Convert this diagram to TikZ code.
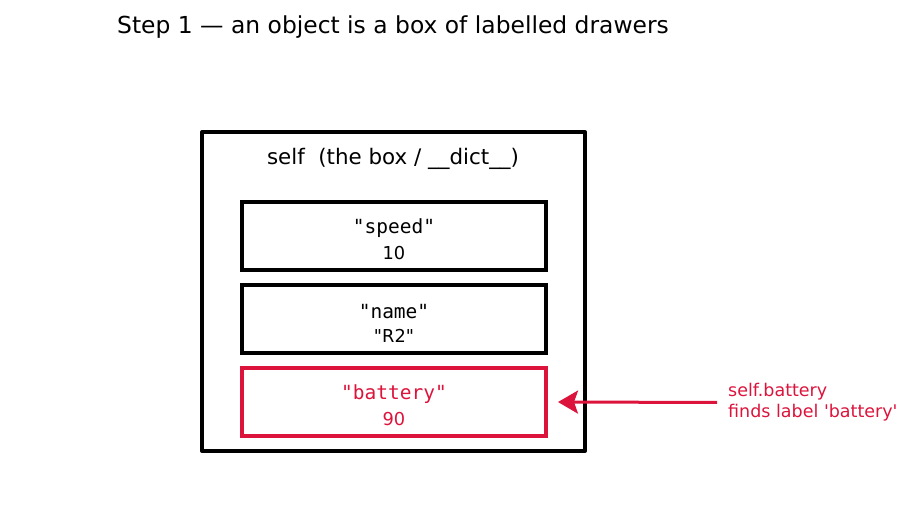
\documentclass[tikz,border=0pt]{standalone}
\usepackage{fontspec}
\setmainfont{DejaVu Sans}[Ligatures=TeXOff]
\setmonofont{DejaVu Sans Mono}
\usetikzlibrary{arrows.meta}
\definecolor{attr_red}{RGB}{220, 20, 60}
\tikzstyle{box}=[draw=black,line width=4pt,line join=round,minimum width=383pt,minimum height=319pt,inner sep=0pt]
\tikzstyle{drawer}=[draw=black,line width=4pt,minimum width=304pt,minimum height=68pt,inner sep=0pt]
\tikzstyle{found}=[drawer,draw=attr_red]
\tikzstyle{key}=[font=\fontsize{19.5}{22}\ttfamily]
\tikzstyle{val}=[font=\fontsize{17.8}{20}\selectfont]
\tikzstyle{note}=[font=\fontsize{17.5}{21}\selectfont,text=attr_red,align=left,anchor=west,inner sep=0pt]
\tikzstyle{none}=[]

\begin{document}
\begin{tikzpicture}[x=1pt,y=-1pt]
            \useasboundingbox (0, 0) rectangle (911, 510);
            \node [font=\fontsize{23.4}{26}\selectfont] (0) at (393, 27.5) {Step 1 — an object is a box of labelled drawers};
            \node [style=box] (1) at (393.5, 291.5) {};
            \node [font=\fontsize{21.4}{24}\selectfont] (2) at (393, 158.5) {self\ \ (the box / \_\_dict\_\_)};
            \node [style=drawer] (3) at (394, 236) {};
            \node [style=key] (4) at (394, 228.5) {"speed"};
            \node [style=val] (5) at (394, 253) {10};
            \node [style=drawer] (6) at (394, 319) {};
            \node [style=key] (7) at (394, 311.5) {"name"};
            \node [style=val] (8) at (394, 336) {"R2"};
            \node [style=found] (9) at (394, 402) {};
            \node [style=key,text=attr_red] (10) at (394, 394.5) {"battery"};
            \node [style=val,text=attr_red] (11) at (394, 419) {90};
            \node [style=note] (12) at (728, 402.5) {self.battery\\finds label 'battery'};
            \draw [attr_red,line width=3pt,-{Stealth[length=20pt,width=23pt,inset=4pt]},shorten <=11pt,shorten >=10pt] (12.west) to (9.east);
    \end{tikzpicture}
\end{document}
